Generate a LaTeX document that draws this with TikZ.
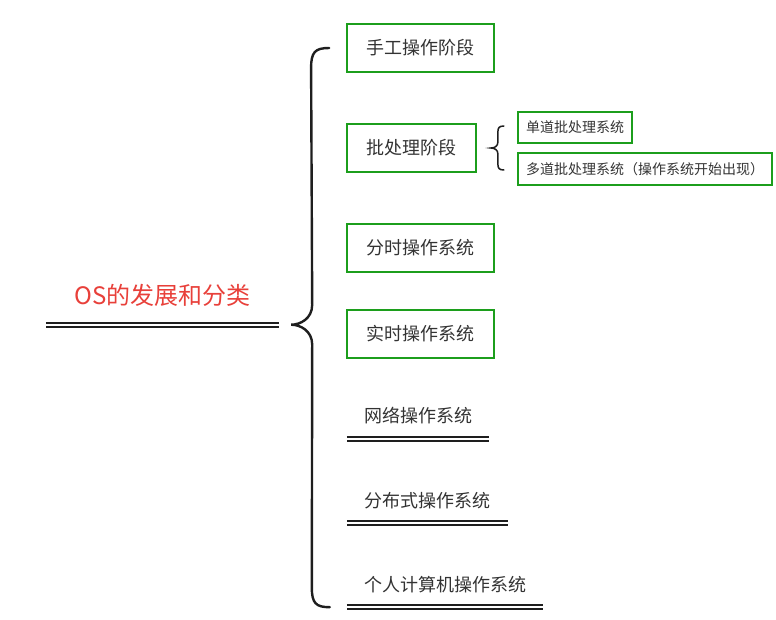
\documentclass[tikz,border=0pt]{standalone}
\usepackage{fontspec}
\setmainfont{Noto Sans CJK SC}
\usetikzlibrary{calc}
\definecolor{boxgreen}{HTML}{1C9E1C}
\definecolor{titlered}{HTML}{E8403A}
\definecolor{ink}{HTML}{333333}
\definecolor{rule}{HTML}{1E1E1E}
\tikzset{item/.style={text=ink,font=\fontsize{18}{21}\selectfont,inner sep=0pt},
  stage/.style={item,draw=boxgreen,line width=1.8pt,minimum height=48pt},
  substage/.style={stage,font=\fontsize{14}{16}\selectfont,minimum height=31pt},
  lined/.style={item,minimum height=46pt},
  dbl/.style={draw=rule,double=white,line width=2pt,double distance=2pt},
  brace/.style={draw=rule,line width=2.4pt,line cap=round}}
\begin{document}
\begin{tikzpicture}[x=1pt,y=-1pt]
\useasboundingbox (0,0) rectangle (776,619);
\node[item,text=titlered,font=\fontsize{24}{28}\selectfont,minimum width=233pt,minimum height=59pt] (os) at (162.5,295) {OS的发展和分类};
\draw[dbl] (os.south west)--(os.south east);
\node[stage,minimum width=147pt] (hand) at (420.5,48) {手工操作阶段};
\node[stage,minimum width=129pt] (batch) at (411.5,148) {批处理阶段};
\node[stage,minimum width=147pt] (share) at (420.5,248) {分时操作系统};
\node[stage,minimum width=147pt] (real) at (420.5,334) {实时操作系统};
\node[lined,minimum width=142pt] (net) at (418,416) {网络操作系统};
\draw[dbl] (net.south west)--(net.south east);
\node[lined,minimum width=161pt,minimum height=44pt] (dist) at (427.5,501) {分布式操作系统};
\draw[dbl] (dist.south west)--(dist.south east);
\node[lined,minimum width=196pt,minimum height=44pt] (pc) at (445,585) {个人计算机操作系统};
\draw[dbl] (pc.south west)--(pc.south east);
% batch sub-systems
\node[substage,minimum width=114pt,minimum height=31pt] (single) at (575,127.5) {单道批处理系统};
\node[substage,minimum width=254pt,minimum height=32pt] (multi) at (645,169) {多道批处理系统（操作系统开始出现）};
% big brace
\coordinate (bt) at ([xshift=-17pt]hand.west);
\coordinate (bb) at ([xshift=-17pt]pc.south west);
\coordinate (tip) at ([xshift=12pt]os.south east);
\draw[brace] (bt) .. controls +(-14,0) and +(0,-16) .. ($(bt)+(-18,20)$)
  -- ($(tip)+(21,-20)$) .. controls +(0,14) and +(9,0) .. (tip)
  .. controls +(9,0) and +(0,-14) .. ($(tip)+(21,20)$)
  -- ($(bb)+(-18,-20)$) .. controls +(0,16) and +(-14,0) .. (bb);
% small brace
\coordinate (st) at ($(batch.east)+(27,-22)$);
\coordinate (sb) at ($(batch.east)+(27,22)$);
\coordinate (stip) at ([xshift=14pt]batch.east);
\draw[brace,line width=1.5pt] (st) .. controls +(-5,0) and +(0,-4) .. ($(st)+(-6,6)$)
  -- ($(stip)+(7,-6)$) .. controls +(0,4) and +(4,0) .. (stip)
  .. controls +(4,0) and +(0,-4) .. ($(stip)+(7,6)$)
  -- ($(sb)+(-6,-6)$) .. controls +(0,4) and +(-5,0) .. (sb);
\end{tikzpicture}
\end{document}
